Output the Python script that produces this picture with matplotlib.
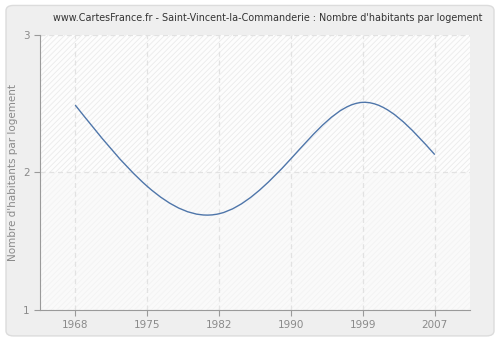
import numpy as np
import matplotlib
matplotlib.use("Agg")
import matplotlib.pyplot as plt
from matplotlib.path import Path
from matplotlib.patches import PathPatch, FancyBboxPatch, Rectangle

years = ["1968", "1975", "1982", "1990", "1999", "2007"]
values = [2.49, 1.90, 1.70, 2.10, 2.51, 2.13]
y_ticks = [1, 2, 3]
title = "www.CartesFrance.fr - Saint-Vincent-la-Commanderie : Nombre d'habitants par logement"
ylabel = "Nombre d'habitants par logement"

x = np.arange(len(years), dtype=float)
y = np.array(values, dtype=float)

# natural cubic spline slopes -> Bezier control points (curve drawn by matplotlib Path)
n = len(x)
A = np.zeros((n, n)); b = np.zeros(n)
A[0, 0], A[0, 1] = 2, 1; b[0] = 3 * (y[1] - y[0])
A[-1, -2], A[-1, -1] = 1, 2; b[-1] = 3 * (y[-1] - y[-2])
for i in range(1, n - 1):
    A[i, i - 1], A[i, i], A[i, i + 1] = 1, 4, 1
    b[i] = 3 * (y[i + 1] - y[i - 1])
d = np.linalg.solve(A, b)
verts = [(x[0], y[0])]
codes = [Path.MOVETO]
for i in range(n - 1):
    verts += [(x[i] + 1/3, y[i] + d[i] / 3), (x[i + 1] - 1/3, y[i + 1] - d[i + 1] / 3), (x[i + 1], y[i + 1])]
    codes += [Path.CURVE4] * 3

plt.rcParams['hatch.linewidth'] = 0.6
fig = plt.figure(figsize=(5, 3.4), dpi=100)
fig.patch.set_facecolor("white")
fig.patches.append(FancyBboxPatch((0.012, 0.012), 0.976, 0.972, boxstyle="round,pad=0,rounding_size=0.015",
                                  transform=fig.transFigure, facecolor="#efefef", edgecolor="#dcdcdc", lw=1, zorder=-10))
ax = fig.add_axes([0.08, 0.0882, 0.86, 0.809])
ax.set_facecolor("#fcfcfc")
ax.set_xlim(-0.49, 5.49)
ax.set_ylim(1, 3)

ax.add_patch(Rectangle((-0.49, 2), 5.98, 1, facecolor="#fdfdfd", edgecolor="#ebebeb", hatch="//////", lw=0, zorder=0))
ax.add_patch(Rectangle((-0.49, 1), 5.98, 1, facecolor="#fafafa", edgecolor="#f3f3f3", hatch="//////", lw=0, zorder=0))

ax.add_patch(PathPatch(Path(verts, codes), facecolor="none", edgecolor="#4f76aa", lw=1.0, zorder=3))

ax.set_xticks(x)
ax.set_xticklabels(years)
ax.set_yticks(y_ticks)
ax.grid(True, color="#e2e2e2", linestyle=(0, (4, 3)), lw=0.9, zorder=1)
ax.set_axisbelow(True)
for s in ["top", "right"]:
    ax.spines[s].set_visible(False)
for s in ["left", "bottom"]:
    ax.spines[s].set_color("#9a9a9a")
ax.tick_params(colors="#9a9a9a", labelcolor="#8a8a8a", labelsize=7.5, length=4, width=0.8)
ax.set_ylabel(ylabel, color="#8a8a8a", fontsize=7.5)
ax.yaxis.set_label_coords(-0.051, 0.5)
fig.text(0.535, 0.948, title, ha="center", va="center", fontsize=6.9, color="#333333")

fig.savefig("out.png", dpi=100)
